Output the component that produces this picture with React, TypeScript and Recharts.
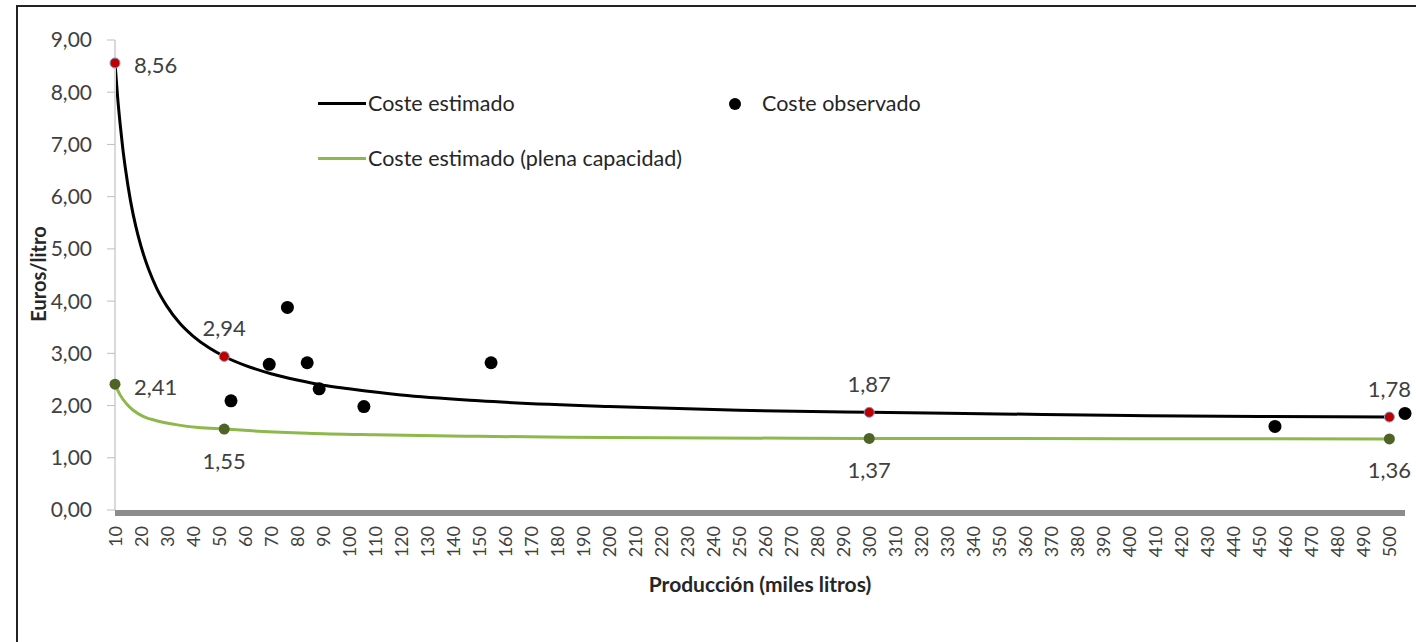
import { ComposedChart, Line, Scatter, XAxis, YAxis, Legend } from 'recharts';

// x = miles de litros, y = euros/litro
const costeEstimado = [
  { x: 10, y: 8.56 }, { x: 11, y: 7.91 }, { x: 12, y: 7.38 }, { x: 13, y: 6.92 },
  { x: 14, y: 6.54 }, { x: 16, y: 5.91 }, { x: 18, y: 5.43 }, { x: 20, y: 5.05 },
  { x: 23, y: 4.6 }, { x: 26, y: 4.25 }, { x: 30, y: 3.9 }, { x: 35, y: 3.57 },
  { x: 40, y: 3.33 }, { x: 46, y: 3.11 }, { x: 52, y: 2.94 }, { x: 60, y: 2.77 },
  { x: 70, y: 2.61 }, { x: 80, y: 2.49 }, { x: 90, y: 2.39 }, { x: 100, y: 2.32 },
  { x: 120, y: 2.2 }, { x: 150, y: 2.09 }, { x: 200, y: 1.98 }, { x: 250, y: 1.91 },
  { x: 300, y: 1.87 }, { x: 350, y: 1.84 }, { x: 400, y: 1.81 }, { x: 450, y: 1.79 },
  { x: 500, y: 1.78 },
];

const costePlena = [
  { x: 10, y: 2.41 }, { x: 12, y: 2.2 }, { x: 14.5, y: 2.03 }, { x: 17, y: 1.91 },
  { x: 21, y: 1.79 }, { x: 26, y: 1.71 }, { x: 34, y: 1.63 }, { x: 42, y: 1.58 },
  { x: 52, y: 1.55 }, { x: 65, y: 1.51 }, { x: 84, y: 1.47 }, { x: 110, y: 1.44 },
  { x: 150, y: 1.41 }, { x: 200, y: 1.39 }, { x: 300, y: 1.37 }, { x: 400, y: 1.365 },
  { x: 500, y: 1.36 },
];

const costeObservado = [
  { x: 54.6, y: 2.09 }, { x: 69.3, y: 2.79 }, { x: 76.3, y: 3.88 }, { x: 83.9, y: 2.82 },
  { x: 88.5, y: 2.32 }, { x: 105.7, y: 1.98 }, { x: 154.6, y: 2.82 }, { x: 456, y: 1.6 },
  { x: 506, y: 1.85 },
];

const marcasEstimado = [
  { x: 10, y: 8.56 }, { x: 52, y: 2.94 }, { x: 300, y: 1.87 }, { x: 500, y: 1.78 },
];

const marcasPlena = [
  { x: 10, y: 2.41 }, { x: 52, y: 1.55 }, { x: 300, y: 1.37 }, { x: 500, y: 1.36 },
];

const xTicks = Array.from({ length: 50 }, (_, i) => 10 + i * 10);
const yTicks = [0, 1, 2, 3, 4, 5, 6, 7, 8, 9];

const FONT = 'Lato, "Open Sans", sans-serif';
const TEXT = '#404040';
const GREEN = '#8DB84A';

const fmt = (v: any) => (typeof v === 'number' ? v.toFixed(2).replace('.', ',') : String(v ?? ''));

function XTick({ x, y, payload }: any) {
  const ty = y + 14;
  return (
    <text
      x={x}
      y={ty}
      transform={`rotate(-90, ${x}, ${ty})`}
      textAnchor="end"
      dominantBaseline="central"
      fontFamily={FONT}
      fontSize={18}
      fill={TEXT}
    >
      {payload.value}
    </text>
  );
}

function dotShape(fill: string, r: number, stroke?: string) {
  return (props: any) => (
    <circle cx={props.cx} cy={props.cy} r={r} fill={fill} stroke={stroke ?? 'none'} strokeWidth={1} />
  );
}

// etiqueta: la primera a la derecha, el resto arriba (estimado) o abajo (plena)
function labelFor(rows: { x: number; y: number }[], side: 'above' | 'below') {
  return (props: any) => {
    const { index } = props;
    const cx = props.cx ?? props.x + (props.width ?? 0) / 2;
    const cy = props.cy ?? props.y + (props.height ?? 0) / 2;
    const first = index === 0;
    const tx = first ? cx + 19 : cx;
    const ty = first ? cy + 2 : side === 'above' ? cy - 29 : cy + 31;
    return (
      <text
        key={index}
        x={tx}
        y={ty}
        textAnchor={first ? 'start' : 'middle'}
        dominantBaseline="central"
        fontFamily={FONT}
        fontSize={22}
        fill={TEXT}
      >
        {fmt(rows[index]?.y)}
      </text>
    );
  };
}

function XTitle({ viewBox }: any) {
  return (
    <text
      x={viewBox.x + viewBox.width / 2}
      y={viewBox.y + 73}
      textAnchor="middle"
      dominantBaseline="central"
      fontFamily={FONT}
      fontSize={21}
      fontWeight={700}
      fill="#262626"
    >
      Producción (miles litros)
    </text>
  );
}

function YTitle() {
  const x = 38;
  const y = 274;
  return (
    <text
      x={x}
      y={y}
      transform={`rotate(-90, ${x}, ${y})`}
      textAnchor="middle"
      dominantBaseline="central"
      fontFamily={FONT}
      fontSize={20}
      fontWeight={700}
      fill="#262626"
    >
      Euros/litro
    </text>
  );
}

function LegendBox() {
  const txt = { position: 'absolute' as const, fontFamily: FONT, fontSize: 21.5, color: '#262626', lineHeight: '24px', whiteSpace: 'nowrap' as const };
  return (
    <div style={{ position: 'relative', width: 1416, height: 0 }}>
      <div style={{ position: 'absolute', left: 318, top: 102, width: 48, height: 3, background: '#000' }} />
      <div style={{ ...txt, left: 368, top: 91 }}>Coste estimado</div>
      <div style={{ position: 'absolute', left: 729, top: 98, width: 12, height: 12, borderRadius: 6, background: '#000' }} />
      <div style={{ ...txt, left: 762, top: 91 }}>Coste observado</div>
      <div style={{ position: 'absolute', left: 318, top: 157, width: 48, height: 3, background: GREEN }} />
      <div style={{ ...txt, left: 368, top: 146 }}>Coste estimado (plena capacidad)</div>
    </div>
  );
}

export default function App() {
  return (
    <div style={{ position: 'fixed', left: 0, top: 0, width: 1416, height: 642, overflow: 'hidden', background: '#fff' }}>
      <div style={{ position: 'absolute', left: 16, top: 5, width: 1400, height: 2, background: '#222' }} />
      <div style={{ position: 'absolute', left: 16, top: 5, width: 2, height: 637, background: '#222' }} />
      <div style={{ position: 'absolute', left: 0, top: 0 }}>
        <ComposedChart width={1416} height={642} margin={{ top: 40, right: 11, bottom: 0, left: 0 }}>
          <XAxis
            dataKey="x"
            type="number"
            domain={[10, 506]}
            ticks={xTicks}
            interval={0}
            tick={<XTick />}
            tickLine={false}
            tickSize={0}
            axisLine={{ stroke: '#8C8C8C', strokeWidth: 6, transform: 'translate(0,3)' }}
            height={132}
            label={<XTitle />}
          />
          <YAxis
            dataKey="y"
            type="number"
            domain={[0, 9]}
            ticks={yTicks}
            tickFormatter={fmt}
            width={115}
            tickSize={8}
            tickMargin={15}
            tickLine={{ stroke: '#BFBFBF' }}
            axisLine={{ stroke: '#D9D9D9', strokeWidth: 2 }}
            tick={{ fontFamily: FONT, fontSize: 21, fill: TEXT }}
            label={<YTitle />}
          />
          <Legend content={<LegendBox />} wrapperStyle={{ position: 'absolute', left: 0, top: 0, width: 1416, height: 0 }} />
          <Line
            data={costeEstimado}
            dataKey="y"
            name="Coste estimado"
            type="monotone"
            stroke="#000"
            strokeWidth={3}
            dot={false}
            activeDot={false}
            isAnimationActive={false}
          />
          <Line
            data={costePlena}
            dataKey="y"
            name="Coste estimado (plena capacidad)"
            type="monotone"
            stroke={GREEN}
            strokeWidth={3}
            dot={false}
            activeDot={false}
            isAnimationActive={false}
          />
          <Scatter
            data={costeObservado}
            dataKey="y"
            name="Coste observado"
            shape={dotShape('#000', 6.5)}
            isAnimationActive={false}
          />
          <Scatter
            data={marcasEstimado}
            dataKey="y"
            shape={dotShape('#C00000', 5, '#7F9CC8')}
            label={labelFor(marcasEstimado, 'above')}
            isAnimationActive={false}
          />
          <Scatter
            data={marcasPlena}
            dataKey="y"
            shape={dotShape('#4F6228', 5.5)}
            label={labelFor(marcasPlena, 'below')}
            isAnimationActive={false}
          />
        </ComposedChart>
      </div>
    </div>
  );
}
